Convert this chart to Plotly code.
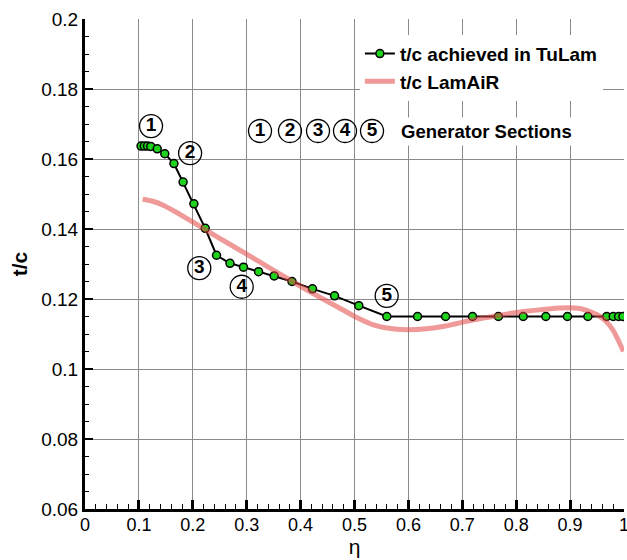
import plotly.graph_objects as go

# ---------------- data ----------------
eta_tulam = [0.104, 0.110, 0.116, 0.122, 0.134, 0.148, 0.165, 0.182, 0.202, 0.223,
             0.244, 0.269, 0.294, 0.322, 0.351, 0.384, 0.422, 0.463, 0.508, 0.560,
             0.617, 0.669, 0.719, 0.767, 0.813, 0.855, 0.895, 0.933, 0.968, 0.980,
             0.990, 0.998]
tc_tulam = [0.1637, 0.1637, 0.1637, 0.1636, 0.1629, 0.1615, 0.1587, 0.1534, 0.1472, 0.1402,
            0.1325, 0.1302, 0.1291, 0.1278, 0.1266, 0.1250, 0.1229, 0.1209, 0.1181, 0.1150,
            0.1150, 0.1150, 0.1150, 0.1150, 0.1150, 0.1150, 0.1150, 0.1150, 0.1150, 0.1150,
            0.1150, 0.1150]

eta_lamair = [0.107, 0.124, 0.145, 0.176, 0.200, 0.223, 0.250, 0.300, 0.350, 0.385,
              0.424, 0.463, 0.508, 0.535, 0.560, 0.597, 0.634, 0.669, 0.719, 0.767,
              0.813, 0.855, 0.895, 0.918, 0.933, 0.950, 0.966, 0.980, 0.990, 0.999]
tc_lamair = [0.1485, 0.1480, 0.1468, 0.1442, 0.1420, 0.1398, 0.1373, 0.1328, 0.1282, 0.1250,
             0.1215, 0.1182, 0.1144, 0.1126, 0.1117, 0.1112, 0.1115, 0.1123, 0.1140, 0.1153,
             0.1164, 0.1171, 0.1175, 0.1173, 0.1166, 0.1155, 0.1137, 0.1110, 0.1080, 0.1050]

# generator section markers (label positions) and key row
section_ids = ["1", "2", "3", "4", "5", "1", "2", "3", "4", "5"]
section_eta = [0.1225, 0.195, 0.212, 0.2907, 0.5597, 0.3247, 0.3803, 0.4323, 0.4824, 0.5325]
section_tc = [0.1694, 0.1617, 0.1288, 0.1235, 0.1209, 0.1680, 0.1680, 0.1680, 0.1680, 0.1680]

x_ticks = [0, 0.1, 0.2, 0.3, 0.4, 0.5, 0.6, 0.7, 0.8, 0.9, 1]
x_ticktext = ["0", "0.1", "0.2", "0.3", "0.4", "0.5", "0.6", "0.7", "0.8", "0.9", "1"]
y_ticks = [0.06, 0.08, 0.1, 0.12, 0.14, 0.16, 0.18, 0.2]
y_ticktext = ["0.06", "0.08", "0.1", "0.12", "0.14", "0.16", "0.18", "0.2"]

FONT = "Liberation Sans, Arial, sans-serif"

fig = go.Figure()

fig.add_trace(go.Scatter(
    x=eta_tulam, y=tc_tulam, mode="lines+markers", name="t/c achieved in TuLam",
    line=dict(color="black", width=2),
    marker=dict(color="#1ed21e", size=8, line=dict(color="black", width=1.5)),
))
fig.add_trace(go.Scatter(
    x=eta_lamair, y=tc_lamair, mode="lines", name="t/c LamAiR",
    line=dict(color="rgba(225,70,70,0.55)", width=5, shape="spline", smoothing=0.8),
))
fig.add_trace(go.Scatter(
    x=section_eta, y=section_tc, mode="markers+text", text=section_ids,
    textposition="middle center", showlegend=False, cliponaxis=False,
    textfont=dict(family=FONT, size=19, color="black", weight="bold"),
    marker=dict(symbol="circle-open", size=23, color="black", line=dict(width=1.3)),
    hoverinfo="skip",
))

fig.add_annotation(
    x=0.745, y=0.1680, xref="x", yref="y", text="Generator Sections", showarrow=False,
    font=dict(family=FONT, size=18.5, color="black", weight="bold"),
    bgcolor="white", borderpad=3,
)

axis_common = dict(
    showline=True, linecolor="black", linewidth=3, zeroline=False,
    showgrid=True, gridcolor="#8a8a8a", gridwidth=1,
    ticks="inside", tickcolor="black", automargin=False,
    ticklabeloverflow="allow",
)

fig.update_xaxes(
    range=[0, 1], tickvals=x_ticks, ticktext=x_ticktext, ticklen=9, tickwidth=2.5,
    minor=dict(dtick=0.02, tick0=0, ticks="inside", ticklen=5, tickwidth=1, tickcolor="black", showgrid=False),
    title=dict(text="η", font=dict(family=FONT, size=21, color="black"), standoff=6),
    tickfont=dict(family=FONT, size=18, color="black"),
    ticklabelstandoff=-3,
    **axis_common,
)
fig.update_yaxes(
    range=[0.06, 0.2], tickvals=y_ticks, ticktext=y_ticktext, ticklen=8, tickwidth=2,
    minor=dict(dtick=0.005, tick0=0.06, ticks="inside", ticklen=4, tickwidth=1, tickcolor="black", showgrid=False),
    title=dict(text="<b>t/c</b>", font=dict(family=FONT, size=21, color="black"), standoff=8),
    tickfont=dict(family=FONT, size=19, color="black"),
    ticklabelstandoff=0,
    **axis_common,
)

fig.update_layout(
    width=627, height=560,
    margin=dict(l=85, r=3, t=19, b=51),
    paper_bgcolor="white", plot_bgcolor="white",
    font=dict(family=FONT, color="black"),
    legend=dict(
        x=0.51, y=0.968, xanchor="left", yanchor="top",
        bgcolor="white", borderwidth=0,
        font=dict(family=FONT, size=19, color="black", weight="bold"),
        tracegroupgap=0, itemwidth=30,
    ),
)

fig.write_html("out.html")
